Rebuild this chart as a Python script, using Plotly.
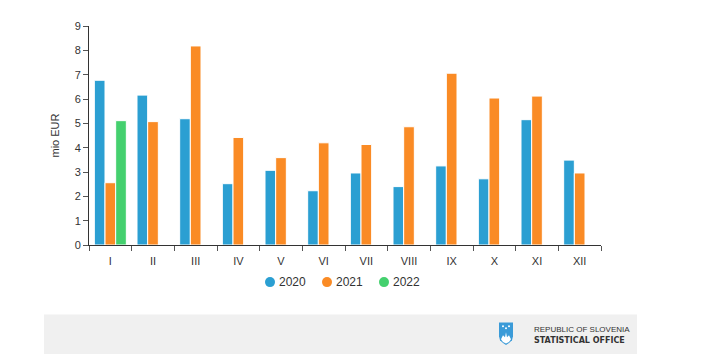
import plotly.graph_objects as go

months = ["I", "II", "III", "IV", "V", "VI", "VII", "VIII", "IX", "X", "XI", "XII"]
v2020 = [6.77, 6.16, 5.19, 2.52, 3.07, 2.23, 2.96, 2.40, 3.25, 2.72, 5.15, 3.49]
v2021 = [2.56, 5.07, 8.18, 4.42, 3.59, 4.20, 4.13, 4.86, 7.06, 6.04, 6.12, 2.96]
v2022 = [5.11]
months2022 = months[:1]
series_names = ["2020", "2021", "2022"]

colors = {"2020": "#2b9fd2", "2021": "#fa8b25", "2022": "#44d06e"}

OFF = 8  # page body margin
W, H = 713 - OFF, 361 - OFF
# plot area in window pixels
L, R, T, B = 89, 601, 22.7, 245.3

def px(x):
    return (x - L) / (R - L)

def py(y):
    return (B - y) / (B - T)

fig = go.Figure()
for name, xs, ys in [("2020", months, v2020), ("2021", months, v2021), ("2022", months2022, v2022)]:
    fig.add_trace(go.Bar(name=name, x=xs, y=ys, showlegend=False,
                         marker=dict(color=colors[name], line=dict(color="white", width=1))))

font = "Liberation Sans, Arial, sans-serif"

shapes = [
    dict(type="rect", xref="paper", yref="paper", x0=px(44), x1=px(637), y0=py(316), y1=py(356),
         fillcolor="#f0f0f0", line=dict(width=0), layer="below"),
]
annotations = []

# manual legend with circle markers
leg_y = 283
leg_x = [270, 327, 384]
for name, lx in zip(series_names, leg_x):
    shapes.append(dict(type="circle", xref="paper", yref="paper", xsizemode="pixel", ysizemode="pixel",
                       xanchor=px(lx), yanchor=py(leg_y), x0=-5, x1=5, y0=-5, y1=5,
                       fillcolor=colors[name], line=dict(width=0)))
    annotations.append(dict(text=name, xref="paper", yref="paper", x=px(lx + 7), y=py(leg_y),
                            xanchor="left", yanchor="middle", showarrow=False,
                            font=dict(family=font, size=12, color="#333")))

# logo shield
def path(points):
    return "M " + " L ".join(f"{px(x):.5f},{py(y):.5f}" for x, y in points) + " Z"

shield = [(499, 324), (513, 324), (513, 338), (512, 342), (509, 345), (506, 347),
          (503, 345), (500, 342), (499, 338)]
shapes.append(dict(type="path", xref="paper", yref="paper", path=path(shield),
                   fillcolor="#3b9bd8", line=dict(width=0)))
mount = [(501, 341), (503, 337), (505, 339), (506, 334), (507, 339), (509, 337), (511, 341),
         (509, 344), (506, 345.5), (503, 344)]
shapes.append(dict(type="path", xref="paper", yref="paper", path=path(mount),
                   fillcolor="white", line=dict(width=0)))
for sx in (503, 506, 509):
    shapes.append(dict(type="circle", xref="paper", yref="paper", xsizemode="pixel", ysizemode="pixel",
                       xanchor=px(sx), yanchor=py(328 if sx != 506 else 330), x0=-1, x1=1, y0=-1, y1=1,
                       fillcolor="white", line=dict(width=0)))

annotations += [
    dict(text="REPUBLIC OF SLOVENIA", xref="paper", yref="paper", x=px(532), y=py(331),
         xanchor="left", yanchor="middle", showarrow=False,
         font=dict(family=font, size=8, color="#333")),
    dict(text="<b>STATISTICAL OFFICE</b>", xref="paper", yref="paper", x=px(532), y=py(342),
         xanchor="left", yanchor="middle", showarrow=False,
         font=dict(family="DejaVu Sans, sans-serif", size=8, color="#333")),
]

fig.update_layout(
    width=W, height=H,
    margin=dict(l=L - OFF, r=W - (R - OFF), t=T - OFF, b=H - (B - OFF), pad=0),
    paper_bgcolor="white", plot_bgcolor="white",
    barmode="group", bargap=0.25, bargroupgap=0,
    font=dict(family=font, size=11, color="#333"),
    showlegend=False,
    shapes=shapes,
    annotations=annotations,
    xaxis=dict(type="category", showline=True, linecolor="#333", linewidth=1,
               ticks="outside", tickson="boundaries", ticklen=5, tickcolor="#555",
               ticklabelstandoff=6,
               showgrid=False, tickfont=dict(size=11, color="#333")),
    yaxis=dict(range=[0, 9], dtick=1, showline=True, linecolor="#333", linewidth=1,
               ticks="outside", ticklen=5, tickcolor="#555", showgrid=False, zeroline=False,
               title=dict(text="mio EUR", font=dict(size=11, color="#333"), standoff=12),
               tickfont=dict(size=11, color="#333")),
)

fig.write_html("out.html")
